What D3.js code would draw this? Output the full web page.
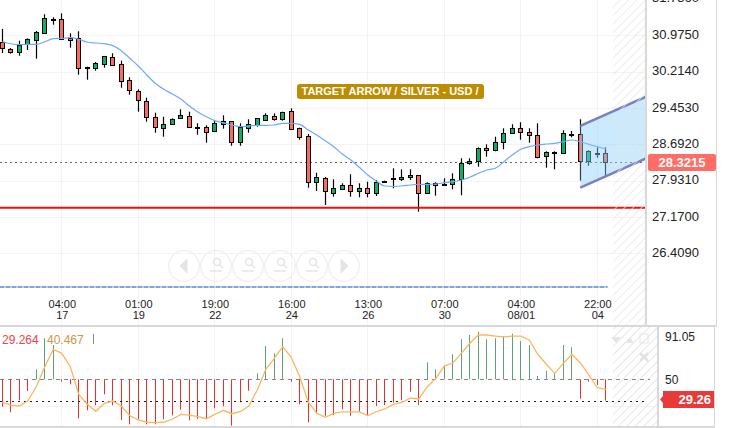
<!DOCTYPE html>
<html>
<head>
<meta charset="utf-8">
<script src="https://cdn.jsdelivr.net/npm/d3@7"></script>
<style>
  html, body { margin: 0; padding: 0; background: #fff; overflow: hidden; }
  svg { display: block; font-family: "Liberation Sans", Arial, sans-serif; }
</style>
</head>
<body>
<script>
// candles, oldest first
const open = [30.831,30.691,30.616,30.783,30.879,31.025,31.318,31.305,30.908,30.908,30.308,30.294,30.377,30.511,30.365,30.030,29.800,29.591,29.269,29.039,29.123,29.248,29.290,29.054,29.048,28.964,29.123,29.173,28.734,29.039,29.102,29.206,29.290,29.227,29.382,29.027,28.859,27.898,27.981,27.680,27.764,27.835,27.710,27.772,27.680,27.919,27.981,27.960,28.002,28.044,27.680,27.889,27.856,27.856,27.960,28.295,28.337,28.609,28.567,28.734,28.922,29.027,28.943,28.880,28.441,28.525,28.504,28.901,28.901,28.337,28.504,28.504];
const high = [31.103,30.705,30.858,30.908,31.061,31.410,31.347,31.431,31.013,31.055,30.315,30.413,30.538,30.595,30.440,30.093,29.842,29.666,29.353,29.269,29.236,29.424,29.374,29.131,29.089,29.186,29.298,29.173,29.131,29.215,29.242,29.340,29.340,29.374,29.445,29.039,28.908,28.098,28.009,27.960,27.877,28.065,27.877,27.910,27.946,27.931,28.190,28.169,28.169,28.050,27.898,27.898,27.981,28.086,28.399,28.399,28.629,28.692,28.851,29.027,29.110,29.152,29.027,29.131,28.546,28.546,28.985,28.970,29.215,28.567,28.629,28.629];
const low = [30.601,30.586,30.544,30.664,30.482,31.025,31.193,30.887,30.712,30.147,30.043,30.231,30.294,30.356,29.875,29.729,29.374,29.165,28.935,28.851,29.102,29.236,29.048,28.893,28.726,28.964,29.018,28.663,28.663,28.935,29.060,29.200,29.186,29.186,29.018,28.788,27.785,27.716,27.423,27.597,27.737,27.597,27.584,27.584,27.611,27.898,27.772,27.925,27.946,27.283,27.668,27.618,27.835,27.751,27.626,28.266,28.224,28.433,28.546,28.588,28.922,28.788,28.726,28.399,28.203,28.169,28.504,28.838,27.931,28.245,28.412,28.002];
const close = [30.705,30.616,30.774,30.887,31.034,31.326,31.297,30.887,30.879,30.294,30.294,30.386,30.532,30.356,30.022,29.821,29.612,29.269,29.048,29.110,29.215,29.298,29.048,29.039,28.956,29.131,29.173,28.734,29.048,29.110,29.236,29.298,29.227,29.361,29.018,28.851,27.898,28.002,27.710,27.772,27.835,27.710,27.772,27.680,27.898,27.898,27.960,28.002,28.044,27.680,27.889,27.835,27.835,27.960,28.295,28.337,28.609,28.567,28.734,28.922,29.027,28.943,28.880,28.420,28.525,28.504,28.922,28.893,28.337,28.546,28.489,28.316];
const avg = [30.837,30.795,30.774,30.783,30.783,30.837,30.900,30.908,30.921,30.887,30.831,30.810,30.795,30.754,30.649,30.490,30.329,30.141,29.967,29.842,29.744,29.639,29.493,29.367,29.269,29.186,29.144,29.096,29.060,29.075,29.089,29.089,29.096,29.131,29.131,29.110,28.991,28.887,28.767,28.642,28.489,28.364,28.211,28.050,27.925,27.820,27.814,27.820,27.841,27.856,27.856,27.862,27.889,27.910,27.946,28.002,28.086,28.155,28.190,28.328,28.468,28.588,28.642,28.677,28.698,28.713,28.746,28.782,28.746,28.692,28.642,28.594];

// oscillator panel
const histo = [23.4,18.0,29.6,38.6,59.7,89.8,83.3,47.7,45.1,12.1,19.9,24.8,35.4,24.8,10.5,6.3,11.5,6.3,6.3,11.2,15.0,20.5,10.2,11.7,11.7,21.8,23.8,5.0,27.7,38.9,55.8,82.3,75.2,89.8,47.7,25.7,8.3,17.0,14.7,15.3,20.9,14.7,18.5,14.7,24.1,25.0,27.3,29.6,38.0,25.0,66.5,59.7,63.2,74.3,88.8,93.0,96.2,88.8,89.8,92.0,94.3,87.2,83.3,53.2,58.1,55.8,83.3,81.1,31.2,47.7,44.5,29.26];
const signal = [27.7,25.0,24.1,29.2,42.8,62.2,79.1,75.2,62.2,35.4,25.7,18.9,26.7,28.9,24.1,14.7,10.5,8.3,7.9,8.3,11.2,16.0,15.3,13.7,11.7,16.0,19.9,16.6,18.5,24.1,39.6,59.7,70.4,81.7,71.0,52.5,27.7,17.0,13.1,17.0,18.3,18.3,18.3,14.7,18.5,21.2,25.7,27.7,31.8,30.9,42.8,51.0,62.9,65.8,75.2,85.0,93.0,93.0,92.0,91.1,92.0,92.0,88.2,74.3,64.6,55.8,65.5,74.3,66.1,54.2,41.8,40.3];

// axes
const priceTicks = [31.736,30.975,30.214,29.453,28.692,27.931,27.17,26.409];
const timeIdx = [7,16,25,34,43,52,61,70];
const timeTop = ["04:00","01:00","19:00","16:00","13:00","07:00","04:00","22:00"];
const timeBottom = ["17","19","22","24","26","30","08/01","04"];
const oscTicks = [91.05,50];

// levels and the drawn channel
const lastPrice = 28.3215;
const support = 27.367;
const lowerLevel = 25.709;
const channelIdx = [68,75.73];
const channelTop = [29.075,29.687];
const channelBottom = [27.785,28.399];
const lastOsc = 29.26;
const oscLine = 50;

let w = 733, h = 428;
let plotRight = 645, plotBottom = 325;

let svg = d3.select("body").append("svg").attr("width", w).attr("height", h);

let x = d3.scaleLinear().domain([0, 71]).range([2.3, 605.8]);
let y = d3.scaleLinear().domain([31.709, 24.914]).range([0, 325]);
let yOsc = d3.scaleLinear().domain([0, 100]).range([430.8, 327.8]);
let px = i => Math.floor(x(i)) + 0.5;

let defs = svg.append("defs");
let hatch = defs.append("pattern").attr("id", "hatch")
  .attr("width", 6).attr("height", 6)
  .attr("patternUnits", "userSpaceOnUse")
  .attr("patternTransform", "rotate(45)");
hatch.append("line").attr("x1", 0).attr("x2", 0).attr("y1", 0).attr("y2", 6)
  .attr("stroke", "#e6e6e6").attr("stroke-width", 2);
defs.append("clipPath").attr("id", "priceClip").append("rect")
  .attr("width", plotRight).attr("height", plotBottom);

// grid
let grid = svg.append("g").attr("stroke", "#f3f3f3").attr("stroke-width", 1);
grid.selectAll(".gy").data(priceTicks.slice(1)).enter().append("line")
  .attr("x1", 0).attr("x2", plotRight)
  .attr("y1", d => Math.round(y(d)) + 0.5).attr("y2", d => Math.round(y(d)) + 0.5);
grid.selectAll(".gx").data(timeIdx).enter().append("line")
  .attr("x1", px).attr("x2", px).attr("y1", 0).attr("y2", plotBottom);
grid.selectAll(".gx2").data(timeIdx).enter().append("line")
  .attr("x1", px).attr("x2", px).attr("y1", 327).attr("y2", 426);
grid.append("line").attr("x1", 0).attr("x2", 657).attr("y1", 406.5).attr("y2", 406.5);

// last price and levels
svg.append("line").attr("x1", 0).attr("x2", plotRight)
  .attr("y1", Math.round(y(lastPrice)) + 0.5).attr("y2", Math.round(y(lastPrice)) + 0.5)
  .attr("stroke", "#666").attr("stroke-dasharray", "2,3");
svg.append("line").attr("x1", 0).attr("x2", px(71) + 2)
  .attr("y1", y(lowerLevel)).attr("y2", y(lowerLevel))
  .attr("stroke", "#c4cbd8").attr("stroke-width", 2);
svg.append("line").attr("x1", 0).attr("x2", px(71) + 2)
  .attr("y1", y(lowerLevel)).attr("y2", y(lowerLevel))
  .attr("stroke", "#7fa5e8").attr("stroke-width", 2).attr("stroke-dasharray", "4,2");

// candles
let candles = svg.append("g").selectAll("g").data(open).enter().append("g");
candles.append("line")
  .attr("x1", (d, i) => px(i)).attr("x2", (d, i) => px(i))
  .attr("y1", (d, i) => y(high[i])).attr("y2", (d, i) => y(low[i]))
  .attr("stroke", "#000").attr("stroke-width", 1.2);
candles.append("rect")
  .attr("x", (d, i) => px(i) - 2)
  .attr("width", 4)
  .attr("y", (d, i) => Math.round(y(Math.max(d, close[i]))) + 0.5)
  .attr("height", (d, i) => Math.max(0, Math.round(y(Math.min(d, close[i]))) - Math.round(y(Math.max(d, close[i])))))
  .attr("fill", (d, i) => close[i] < d ? "#fb6a5e" : "#04b26c")
  .attr("stroke", "#000");

// moving average
let avgLine = d3.line().x((d, i) => x(i)).y(d => y(d)).curve(d3.curveMonotoneX);
svg.append("path").attr("d", avgLine(avg))
  .attr("fill", "none").attr("stroke", "#6ea8fb").attr("stroke-width", 1.2);

// support line
svg.append("line").attr("x1", 0).attr("x2", plotRight)
  .attr("y1", y(support)).attr("y2", y(support))
  .attr("stroke", "#f50d0d").attr("stroke-width", 2);

// channel
let channel = svg.append("g").attr("clip-path", "url(#priceClip)");
let channelArea = d3.area().x((d, i) => x(channelIdx[i]))
  .y0((d, i) => y(channelBottom[i])).y1(d => y(d));
channel.append("path").attr("d", channelArea(channelTop))
  .attr("fill", "#8fd0fb").attr("fill-opacity", 0.45);
let channelEdge = d3.line().x((d, i) => x(channelIdx[i])).y(d => y(d));
channel.selectAll(".edge").data([channelTop, channelBottom]).enter().append("path")
  .attr("d", channelEdge).attr("fill", "none")
  .attr("stroke", "#7b7fc0").attr("stroke-width", 2.5);

// hatched right margins
svg.append("rect").attr("x", 613).attr("y", 0).attr("width", 32).attr("height", plotBottom)
  .attr("fill", "url(#hatch)").attr("fill-opacity", 0.7);
svg.append("rect").attr("x", 613).attr("y", 327).attr("width", 44).attr("height", 99)
  .attr("fill", "url(#hatch)");

// oscillator
svg.append("line").attr("x1", 0).attr("x2", 650)
  .attr("y1", Math.round(yOsc(oscLine)) + 0.5).attr("y2", Math.round(yOsc(oscLine)) + 0.5)
  .attr("stroke", "#888").attr("stroke-dasharray", "4,4");
svg.selectAll(".bar").data(histo).enter().append("line")
  .attr("x1", (d, i) => px(i)).attr("x2", (d, i) => px(i))
  .attr("y1", yOsc(oscLine)).attr("y2", d => yOsc(d))
  .attr("stroke", d => d < oscLine ? "#e8302f" : "#5f9f7c");
svg.append("line").attr("x1", 0).attr("x2", 647)
  .attr("y1", Math.round(yOsc(lastOsc)) + 0.5).attr("y2", Math.round(yOsc(lastOsc)) + 0.5)
  .attr("stroke", "#222").attr("stroke-dasharray", "2,4");
let sigLine = d3.line().x((d, i) => x(i)).y(d => yOsc(d));
svg.append("path").attr("d", sigLine(signal))
  .attr("fill", "none").attr("stroke", "#fdb65e").attr("stroke-width", 1.3);

// frame
let frame = svg.append("g").attr("fill", "#d8d8d8");
frame.append("rect").attr("x", plotRight).attr("y", 0).attr("width", 2).attr("height", plotBottom);
frame.append("rect").attr("x", 716).attr("y", 0).attr("width", 1).attr("height", plotBottom);
frame.append("rect").attr("x", 0).attr("y", plotBottom).attr("width", 717).attr("height", 2);
frame.append("rect").attr("x", 657).attr("y", 327).attr("width", 2).attr("height", 99);
frame.append("rect").attr("x", 714).attr("y", 327).attr("width", 1).attr("height", 99);
frame.append("rect").attr("x", 0).attr("y", 426).attr("width", 715).attr("height", 2);

// axes
let priceAxis = d3.axisRight(y).tickValues(priceTicks).tickSize(0).tickPadding(0)
  .tickFormat(d3.format(".4f"));
let pa = svg.append("g").attr("transform", "translate(652,-1)").call(priceAxis);
pa.select(".domain").remove();
pa.selectAll("text").attr("font-size", 13).attr("font-family", "Liberation Sans").attr("fill", "#222");

let oscAxis = d3.axisRight(yOsc).tickValues(oscTicks).tickSize(0).tickPadding(0)
  .tickFormat(d => d);
let oa = svg.append("g").attr("transform", "translate(665,0)").call(oscAxis);
oa.select(".domain").remove();
oa.selectAll("text").attr("font-size", 12).attr("font-family", "Liberation Sans").attr("fill", "#222");

let timeAxis = d3.axisBottom(x).tickValues(timeIdx).tickSize(0).tickPadding(0)
  .tickFormat((d, i) => timeTop[i]);
let ta = svg.append("g").attr("transform", "translate(0,300)").call(timeAxis);
ta.select(".domain").remove();
ta.selectAll("text").attr("font-size", 11).attr("font-family", "Liberation Sans").attr("fill", "#222");
ta.selectAll(".tick").append("text")
  .attr("y", 11).attr("dy", "0.71em").attr("fill", "#222").attr("font-size", 11)
  .attr("font-family", "Liberation Sans")
  .text((d, i) => timeBottom[i]);

// price tag
svg.append("rect").attr("x", 648).attr("y", 154).attr("width", 68).attr("height", 17)
  .attr("rx", 2).attr("fill", "#ff6d66");
svg.append("text").attr("x", 682).attr("y", 167).attr("text-anchor", "middle")
  .attr("font-size", 13).attr("font-weight", "bold").attr("fill", "#fff")
  .text(d3.format(".4f")(lastPrice));

// oscillator tag
svg.append("path").attr("d", "M660,399.5L663,396V391H714V408H663V403Z").attr("fill", "#e93a3a");
svg.append("text").attr("x", 711).attr("y", 404).attr("text-anchor", "end")
  .attr("font-size", 13).attr("font-weight", "bold").attr("fill", "#fff")
  .text(lastOsc);

// title
svg.append("rect").attr("x", 297).attr("y", 84).attr("width", 187).attr("height", 15)
  .attr("rx", 3).attr("fill", "#bd8c00");
svg.append("text").attr("x", 390).attr("y", 95).attr("text-anchor", "middle")
  .attr("font-size", 11).attr("font-weight", "bold").attr("fill", "#fff")
  .text("TARGET ARROW / SILVER - USD /");

// legend
svg.append("text").attr("x", 2).attr("y", 344).attr("font-size", 12).attr("fill", "#e8474a").text("29.264");
svg.append("text").attr("x", 47).attr("y", 344).attr("font-size", 12).attr("fill", "#c9974a").text("40.467");
svg.append("rect").attr("x", 93).attr("y", 334).attr("width", 1).attr("height", 10).attr("fill", "#888");

// nav buttons
let navX = [184, 216, 248, 280, 312, 344];
let nav = svg.append("g").attr("fill", "none").attr("stroke", "#ebebeb");
nav.selectAll("circle").data(navX).enter().append("circle")
  .attr("cx", d => d).attr("cy", 266).attr("r", 15.5);
let glyph = svg.append("g").attr("fill", "#e4e4e4").attr("stroke", "#e4e4e4");
glyph.append("path").attr("d", "M180,266L187,259V273Z");
glyph.append("path").attr("d", "M348,266L341,259V273Z");
navX.slice(1, 5).forEach(d => {
  glyph.append("circle").attr("cx", d + 1).attr("cy", 262).attr("r", 3.5)
    .attr("fill", "none").attr("stroke-width", 1.5);
  glyph.append("line").attr("x1", d + 3.5).attr("y1", 264.5).attr("x2", d + 7).attr("y2", 268)
    .attr("stroke-width", 1.5);
  glyph.append("line").attr("x1", d - 6).attr("y1", 271).attr("x2", d + 6).attr("y2", 271)
    .attr("stroke-width", 1.5);
});

// oscillator corner icons
let icons = svg.append("g").attr("fill", "#e6e6e6");
icons.append("path").attr("d", "M611,337H621L616,343Z");
icons.append("path").attr("d", "M626,343L630,337L634,343Z");
icons.append("rect").attr("x", 640).attr("y", 334).attr("width", 8).attr("height", 9)
  .attr("fill", "none").attr("stroke", "#e6e6e6");
icons.append("path").attr("d", "M640,353L648,361M648,353L640,361")
  .attr("stroke", "#e2e2e2").attr("stroke-width", 2.5);
</script>
</body>
</html>
